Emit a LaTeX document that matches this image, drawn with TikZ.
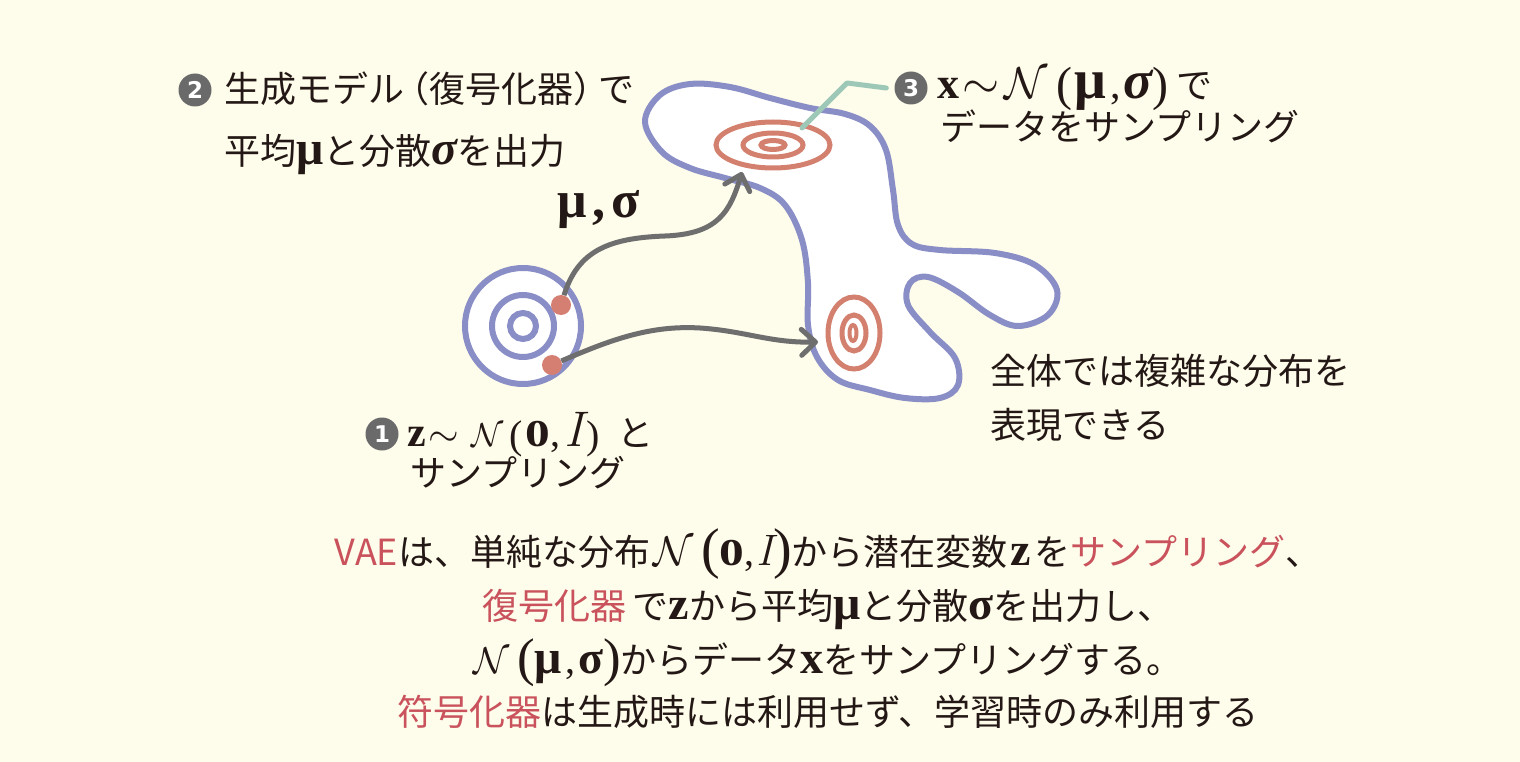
\documentclass[tikz,border=0pt]{standalone}
\usepackage{amsmath}
\usepackage{graphicx}
\usepackage[no-math]{fontspec}
\setmainfont{Noto Sans CJK JP}
\newfontfamily\tms{Liberation Serif}
\newfontfamily\lmr{Latin Modern Roman}
\newfontfamily\dejav{DejaVu Sans}
\usetikzlibrary{arrows.meta}
\definecolor{bg}{HTML}{FEFCEA}
\definecolor{blobblue}{HTML}{8A8EC6}
\definecolor{salmon}{HTML}{D3806F}
\definecolor{dotred}{HTML}{D47F72}
\definecolor{arrgray}{HTML}{6E6E6E}
\definecolor{leadgreen}{HTML}{9DC8B8}
\definecolor{ink}{HTML}{231815}
\definecolor{hl}{HTML}{C9525C}
\definecolor{numgray}{HTML}{6A6A6A}
\newcommand\Bf[2]{{\tms\bfseries\fontsize{#1}{#1}\selectfont #2}}
\newcommand\Bfi[2]{{\tms\bfseries\itshape\fontsize{#1}{#1}\selectfont #2}}
\newcommand\Zero[1]{\scalebox{1.3}[1]{\Bf{#1}{0}}}
\newcommand\Ii[1]{{\lmr\itshape\fontsize{#1}{#1}\selectfont I}}
\newcommand\Par[2]{\raisebox{-2pt}{\tms\fontsize{#1}{#1}\selectfont #2}}
\newcommand\Ncal[1]{\scalebox{#1}{\fontsize{20.74}{20.74}\selectfont$\mathcal{N}$}}
\newcommand\tsim[1]{\scalebox{#1}{\fontsize{20.74}{20.74}\selectfont$\sim$}}
\newcommand\Cm[2]{{\tms\fontsize{#1}{#1}\selectfont #2}}
\begin{document}
\begin{tikzpicture}[x=1pt,y=-1pt,
  jp/.style={font=\fontsize{36}{42}\selectfont, text=ink, inner sep=0pt, anchor=base west},
  capline/.style={jp, anchor=base},
  numc/.style={circle, fill=numgray, text=white, minimum size=33pt, inner sep=0pt, font=\dejav\bfseries\fontsize{23}{23}\selectfont},
  blobline/.style={draw=blobblue, line width=6pt, fill=white, line join=round},
  ring/.style={draw=salmon, line width=5pt},
  bluering/.style={draw=blobblue, line width=6pt},
  dotn/.style={circle, fill=dotred, minimum size=20pt, inner sep=0pt},
  arr/.style={draw=arrgray, line width=5pt, -{Straight Barb[round,length=14pt,width=26pt]}},
  leader/.style={draw=leadgreen, line width=5pt, line cap=round, line join=round}]
\useasboundingbox (0,0) rectangle (1520,762);
\fill[bg] (0,0) rectangle (1520,762);
% blob
\draw[blobline] plot[smooth cycle, tension=0.6] coordinates {
(645,122) (660,95) (690,84) (730,87) (770,98) (810,108) (845,114) (870,126)
(886,150) (893,190) (898,225) (912,244) (940,250) (995,253) (1035,265)
(1057,290) (1048,315) (1018,326) (990,315) (958,292) (928,277) (910,283)
(908,305) (930,332) (955,358) (958,385) (940,398) (905,398) (870,390)
(838,380) (817,357) (808,325) (808,283) (802,240) (785,205) (760,188)
(725,178) (690,168) (662,152)};
% salmon rings
\draw[ring] (773,145) ellipse [x radius=57pt, y radius=23pt];
\draw[ring] (773,145) ellipse [x radius=30pt, y radius=12pt];
\draw[ring] (773,145) ellipse [x radius=12pt, y radius=4.5pt];
\draw[ring] (854,333) ellipse [x radius=26pt, y radius=36pt];
\draw[ring] (854,333) ellipse [x radius=12pt, y radius=18pt];
\draw[ring, line width=4pt] (853,333) ellipse [x radius=3.5pt, y radius=8pt];
% latent circle
\draw[bluering, fill=white] (523,326) circle [radius=58pt];
\draw[bluering] (523,326) circle [radius=31pt];
\draw[bluering] (523,326) circle [radius=13pt];
% dots, targets
\node[dotn] (d1) at (561,305) {};
\node[dotn] (d2) at (552,365) {};
\coordinate (t1) at (742,172);
\coordinate (t2) at (818,342);
\draw[arr] (d1) .. controls (578,250) and (610,238) .. (665,236) .. controls (718,234) and (730,212) .. (t1);
\draw[arr] (d2) .. controls (610,340) and (650,325) .. (700,328) .. controls (745,331) and (770,343) .. (t2);
% number circles
\node[numc] (n2) at (195,90) {2};
\node[numc] (n3) at (911,88) {3};
\node[numc] (n1) at (382,434) {1};
% leader
\coordinate (lead0) at (802,128);
\coordinate (leadk) at (847,83);
\draw[leader] (lead0) -- (leadk) -- ([xshift=-8pt]n3.west);
% labels
\node[jp] (l2a) at (224,103) {生成モデル\kern-11pt（復号化器）\kern-11pt で};
\node[jp] (l2b) at (224,165) {平均\Bf{48}{μ}と分散\Bfi{48}{σ}を出力};
\node[jp] (musig) at (557,218) {\Bf{52}{μ}\,\Bf{52}{,}\,\Bf{52}{σ}};
\node[jp] (l3a) at (937,99) {\Bf{44}{x}\hspace{3pt}\tsim{2.3}\hspace{5pt}\Ncal{2.15}\hspace{9pt}\Par{48}{(}\hspace{2pt}\Bf{56}{μ}\hspace{4pt}\Cm{42}{,}\hspace{3pt}\Bfi{54}{σ}\Par{48}{)}\hspace{8pt}で};
\node[jp] (l3b) at (940,141) {データをサンプリング};
\node[jp] (l1a) at (407,446) {\Bf{42}{z}\hspace{3pt}\tsim{1.9}\hspace{12pt}\Ncal{1.6}\hspace{6pt}\Par{40}{(}\hspace{3pt}\Zero{38}\Cm{40}{,}\hspace{4pt}\Ii{50}\hspace{3pt}\Par{40}{)}\hspace{18pt}と};
\node[jp] (l1b) at (410,486) {サンプリング};
\node[jp] (note1) at (990,384) {全体では複雑な分布を};
\node[jp] (note2) at (990,438) {表現できる};
% caption
\node[capline] (c1) at (828,565) {\textcolor{hl}{VAE}は、単純な分布\hspace{3pt}\Ncal{2.0}\hspace{8pt}\Par{56}{(}\Zero{38}\Cm{40}{,}\hspace{2pt}\Ii{44}\Par{56}{)}から潜在変数\hspace{3pt}\Bf{46}{z}\hspace{3pt}を\textcolor{hl}{サンプリング}、};
\node[capline] (c2) at (828,619) {\textcolor{hl}{復号化器}\hspace{6pt}で\Bf{46}{z}から平均\Bf{48}{μ}と分散\Bf{46}{σ}を出力し、};
\node[capline] (c3) at (828,673) {\Ncal{1.8}\hspace{8pt}\Par{53}{(}\Bf{48}{μ}\hspace{3pt}\Cm{40}{,}\hspace{3pt}\Bf{46}{σ}\Par{53}{)}からデータ\Bf{46}{x}をサンプリングする。};
\node[capline] (c4) at (828,725) {\textcolor{hl}{符号化器}は生成時には利用せず、学習時のみ利用する};
\end{tikzpicture}
\end{document}
